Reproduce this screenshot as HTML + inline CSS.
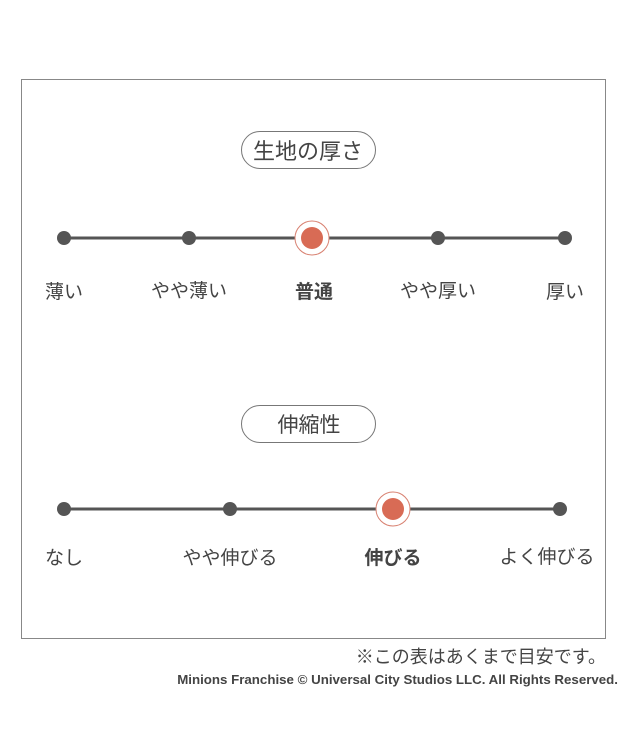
<!DOCTYPE html>
<html><head><meta charset="utf-8"><style>
body{margin:0;width:625px;height:750px;background:#fff;overflow:hidden}
svg{display:block}
text{font-family:"Liberation Sans","Noto Sans CJK JP",sans-serif;fill:#444}
</style></head><body>
<svg width="625" height="750" xmlns="http://www.w3.org/2000/svg">
<rect x="21.5" y="79.5" width="584" height="559" fill="none" stroke="#888" stroke-width="1"/>
<rect x="241.5" y="131.5" width="134" height="37" rx="18.5" fill="#fff" stroke="#777"/>
<text x="308" y="159" font-size="22" text-anchor="middle" fill="#444">生地の厚さ</text>
<line x1="64" y1="238" x2="565" y2="238" stroke="#555" stroke-width="3"/>
<circle cx="64" cy="238" r="7" fill="#555"/>
<circle cx="189" cy="238" r="7" fill="#555"/>
<circle cx="438" cy="238" r="7" fill="#555"/>
<circle cx="565" cy="238" r="7" fill="#555"/>
<circle cx="312" cy="238" r="17" fill="#fff" stroke="#d88070" stroke-width="1"/>
<circle cx="312" cy="238" r="11" fill="#d86b55"/>
<text font-size="19" text-anchor="middle">
<tspan x="64" y="298">薄い</tspan><tspan x="189" y="297">やや薄い</tspan><tspan x="314" y="298" font-weight="bold">普通</tspan><tspan x="438" y="297">やや厚い</tspan><tspan x="565" y="298">厚い</tspan></text>
<rect x="241.5" y="405.5" width="134" height="37" rx="18.5" fill="#fff" stroke="#777"/>
<text x="309" y="432" font-size="21" text-anchor="middle">伸縮性</text>
<line x1="64" y1="509" x2="560" y2="509" stroke="#555" stroke-width="3"/>
<circle cx="64" cy="509" r="7" fill="#555"/>
<circle cx="230" cy="509" r="7" fill="#555"/>
<circle cx="560" cy="509" r="7" fill="#555"/>
<circle cx="393" cy="509" r="17" fill="#fff" stroke="#d88070" stroke-width="1"/>
<circle cx="393" cy="509" r="11" fill="#d86b55"/>
<text font-size="19" text-anchor="middle">
<tspan x="64" y="564">なし</tspan><tspan x="230" y="564">やや伸びる</tspan><tspan x="393" y="564" font-weight="bold">伸びる</tspan><tspan x="547" y="563">よく伸びる</tspan></text>
<text x="606" y="663" font-size="18" text-anchor="end">※この表はあくまで目安です。</text>
<text x="618" y="684" font-size="13.3" font-weight="bold" text-anchor="end" fill="#111">Minions Franchise © Universal City Studios LLC. All Rights Reserved.</text>
</svg>
</body></html>
